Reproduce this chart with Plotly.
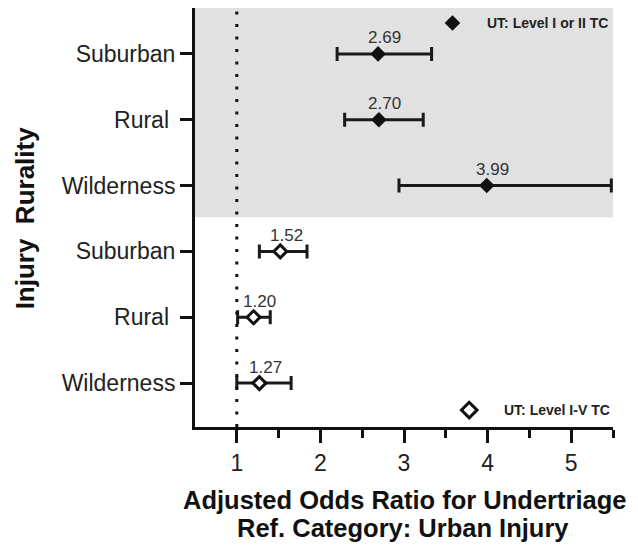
import plotly.graph_objects as go

# ---- data ----
categories = ["Suburban", "Rural ", "Wilderness", "Suburban", "Rural ", "Wilderness"]
y_pos = [6, 5, 4, 3, 2, 1]

# UT: Level I or II TC (top group)
l12_or = [2.69, 2.70, 3.99]
l12_lo = [2.20, 2.29, 2.94]
l12_hi = [3.33, 3.23, 5.48]
l12_y = [6, 5, 4]

# UT: Level I-V TC (bottom group)
l15_or = [1.52, 1.20, 1.27]
l15_lo = [1.27, 1.01, 1.00]
l15_hi = [1.84, 1.40, 1.65]
l15_y = [3, 2, 1]

x_ticks = [1, 2, 3, 4, 5]
x_minor = [1.5, 2.5, 3.5, 4.5, 5.5]
series_names = ["UT: Level I or II TC", "UT: Level I-V TC"]
x_title_lines = ["Adjusted Odds Ratio for Undertriage", "Ref. Category: Urban Injury"]
y_title = "Injury\u00a0 Rurality"

FONT = "Arial, Liberation Sans, sans-serif"

fig = go.Figure()

fig.add_trace(go.Scatter(
    x=l12_or, y=l12_y, mode="markers",
    marker=dict(symbol="diamond", size=12, color="#111111", line=dict(width=0)),
    error_x=dict(type="data", symmetric=False,
                 array=[h - o for h, o in zip(l12_hi, l12_or)],
                 arrayminus=[o - l for o, l in zip(l12_or, l12_lo)],
                 color="#1a1a1a", thickness=3, width=7),
    name=series_names[0], showlegend=False))

fig.add_trace(go.Scatter(
    x=l15_or, y=l15_y, mode="markers",
    marker=dict(symbol="diamond", size=10, color="white", line=dict(width=3, color="#111111")),
    error_x=dict(type="data", symmetric=False,
                 array=[h - o for h, o in zip(l15_hi, l15_or)],
                 arrayminus=[o - l for o, l in zip(l15_or, l15_lo)],
                 color="#1a1a1a", thickness=3, width=7),
    name=series_names[1], showlegend=False))

# legend-like keys inside the plot
fig.add_trace(go.Scatter(x=[3.58], y=[6.47], mode="markers",
                         marker=dict(symbol="diamond", size=12, color="#111111"),
                         showlegend=False, hoverinfo="skip"))
fig.add_trace(go.Scatter(x=[3.78], y=[0.59], mode="markers",
                         marker=dict(symbol="diamond-open", size=12, color="#111111", line=dict(width=3)),
                         showlegend=False, hoverinfo="skip"))

annotations = []
for xv, yv in zip(l12_or + l15_or, l12_y + l15_y):
    annotations.append(dict(x=xv, y=yv, xref="x", yref="y", text=f"{xv:.2f}",
                            showarrow=False, xshift=6, yshift=16, yanchor="middle",
                            font=dict(family=FONT, size=17, color="#333333")))
annotations.append(dict(x=3.97, y=6.47, xref="x", yref="y", text="<b>" + series_names[0] + "</b>",
                        showarrow=False, xanchor="left", yanchor="middle",
                        font=dict(family=FONT, size=14, color="#222222")))
annotations.append(dict(x=4.17, y=0.59, xref="x", yref="y", text="<b>" + series_names[1] + "</b>",
                        showarrow=False, xanchor="left", yanchor="middle",
                        font=dict(family=FONT, size=14, color="#222222")))
for txt, xp, yp in zip(x_title_lines, [0.5, 0.498], [-0.174, -0.241]):
    annotations.append(dict(x=xp, y=yp, xref="paper", yref="paper", text="<b>" + txt + "</b>",
                            showarrow=False, xanchor="center", yanchor="middle",
                            font=dict(family=FONT, size=25.5, color="#111111")))
annotations.append(dict(x=-0.407, y=0.5, xref="paper", yref="paper", text="<b>" + y_title + "</b>",
                        showarrow=False, textangle=-90, xanchor="center", yanchor="middle",
                        font=dict(family=FONT, size=26, color="#111111")))

shapes = [
    dict(type="rect", xref="paper", yref="y", x0=0, x1=1, y0=3.52, y1=6.697,
         fillcolor="#e1e1e1", line=dict(width=0), layer="below"),
    dict(type="line", xref="x", yref="paper", x0=1, x1=1, y0=0, y1=1,
         line=dict(color="#111111", width=3, dash="3px,9.5px"), layer="above"),
]

fig.update_layout(
    width=630, height=540,
    margin=dict(l=187, r=25, t=0, b=121, autoexpand=False),
    paper_bgcolor="white", plot_bgcolor="white",
    font=dict(family=FONT, color="#222222"),
    annotations=annotations, shapes=shapes,
    showlegend=False,
    xaxis=dict(range=[0.5, 5.5], tickvals=x_ticks, ticktext=[str(v) for v in x_ticks],
               ticks="outside", ticklen=13, tickwidth=3, tickcolor="#111111",
               minor=dict(tickvals=x_minor, ticks="outside", ticklen=8, tickwidth=3, tickcolor="#111111"),
               showline=True, linewidth=3, linecolor="#111111",
               showgrid=False, zeroline=False,
               tickfont=dict(family=FONT, size=23, color="#222222")),
    yaxis=dict(range=[0.333, 6.697], tickvals=y_pos, ticktext=categories,
               ticks="outside", ticklen=12, tickwidth=3, tickcolor="#111111",
               showline=True, linewidth=3, linecolor="#111111",
               showgrid=False, zeroline=False,
               tickfont=dict(family=FONT, size=23, color="#222222")),
)

fig.write_html("out.html")
